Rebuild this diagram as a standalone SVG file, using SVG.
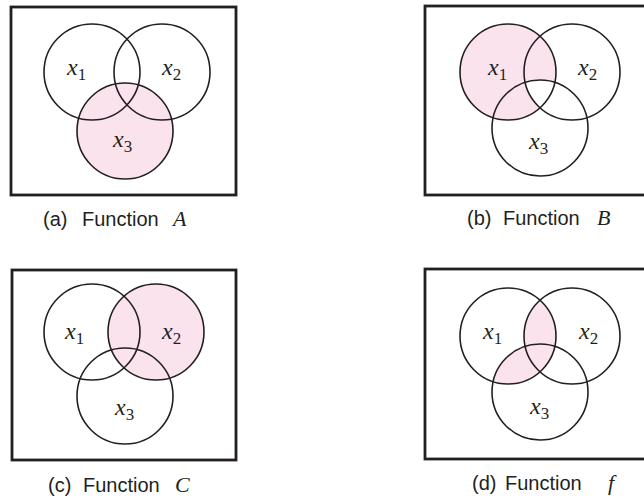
<svg xmlns="http://www.w3.org/2000/svg" width="644" height="500" viewBox="0 0 644 500">
<style>
.box{fill:none;stroke:#231f20;stroke-width:2.8}
.c{fill:none;stroke:#231f20;stroke-width:1.6}
.sh{fill:#fbe3ee;stroke:none}
.v{font-family:"Liberation Serif",serif;font-style:italic;font-size:24px;fill:#231f20}
.s{font-family:"Liberation Serif",serif;font-style:normal;font-size:17px}
.cap{font-family:"Liberation Sans",Arial,sans-serif;font-size:20px;fill:#231f20}
.it{font-family:"Liberation Serif",serif;font-style:italic;font-size:22px}
</style>
<defs>
<clipPath id="b1"><circle cx="508" cy="72" r="48"/></clipPath>
<clipPath id="b2"><circle cx="572" cy="72" r="48"/></clipPath>
<clipPath id="d1"><circle cx="508" cy="336" r="48"/></clipPath>
</defs>
<rect width="644" height="500" fill="#ffffff"/>

<g id="panelA">
<rect class="box" x="11" y="7" width="225" height="188"/>
<circle class="sh" cx="125" cy="131" r="48"/>
<circle class="c" cx="92" cy="72" r="48"/>
<circle class="c" cx="162" cy="72" r="48"/>
<circle class="c" cx="125" cy="131" r="48"/>
<text class="v" x="67" y="75">x<tspan class="s" dy="5">1</tspan></text>
<text class="v" x="162" y="75">x<tspan class="s" dy="5">2</tspan></text>
<text class="v" x="113" y="147">x<tspan class="s" dy="5">3</tspan></text>
<text class="cap" x="43" y="226">(a)<tspan x="82">Function</tspan><tspan class="it" x="173">A</tspan></text>
</g>

<g id="panelB">
<rect class="box" x="425" y="6" width="240" height="189"/>
<circle class="sh" cx="508" cy="72" r="48"/>
<g clip-path="url(#b1)"><circle cx="540" cy="128" r="48" fill="#ffffff" clip-path="url(#b2)"/></g>
<circle class="c" cx="508" cy="72" r="48"/>
<circle class="c" cx="572" cy="72" r="48"/>
<circle class="c" cx="540" cy="128" r="48"/>
<text class="v" x="488" y="75">x<tspan class="s" dy="5">1</tspan></text>
<text class="v" x="578" y="75">x<tspan class="s" dy="5">2</tspan></text>
<text class="v" x="529" y="149">x<tspan class="s" dy="5">3</tspan></text>
<text class="cap" x="467" y="225">(b)<tspan x="503">Function</tspan><tspan class="it" x="597">B</tspan></text>
</g>

<g id="panelC">
<rect class="box" x="12" y="270" width="224" height="190"/>
<circle class="sh" cx="156" cy="332" r="48"/>
<circle class="c" cx="92" cy="332" r="48"/>
<circle class="c" cx="156" cy="332" r="48"/>
<circle class="c" cx="125" cy="396" r="48"/>
<text class="v" x="65" y="339">x<tspan class="s" dy="5">1</tspan></text>
<text class="v" x="162" y="339">x<tspan class="s" dy="5">2</tspan></text>
<text class="v" x="115" y="415">x<tspan class="s" dy="5">3</tspan></text>
<text class="cap" x="48" y="492">(c)<tspan x="83">Function</tspan><tspan class="it" x="175">C</tspan></text>
</g>

<g id="panelD">
<rect class="box" x="425" y="269" width="240" height="190"/>
<g clip-path="url(#d1)">
<circle class="sh" cx="572" cy="336" r="48"/>
<circle class="sh" cx="540" cy="392" r="48"/>
</g>
<circle class="c" cx="508" cy="336" r="48"/>
<circle class="c" cx="572" cy="336" r="48"/>
<circle class="c" cx="540" cy="392" r="48"/>
<text class="v" x="483" y="339">x<tspan class="s" dy="5">1</tspan></text>
<text class="v" x="579" y="339">x<tspan class="s" dy="5">2</tspan></text>
<text class="v" x="530" y="414">x<tspan class="s" dy="5">3</tspan></text>
<text class="cap" x="472" y="490">(d)<tspan x="505">Function</tspan><tspan class="it" x="608">f</tspan></text>
</g>
</svg>
